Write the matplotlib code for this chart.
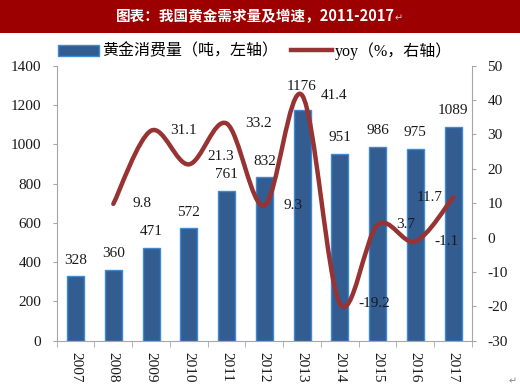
import matplotlib
matplotlib.use('Agg')
import matplotlib.pyplot as plt
from matplotlib.path import Path
from matplotlib.patches import PathPatch, Patch
from matplotlib.lines import Line2D
import numpy as np

years = ['2007', '2008', '2009', '2010', '2011', '2012', '2013', '2014', '2015', '2016', '2017']
consumption = [328, 360, 471, 572, 761, 832, 1176, 951, 986, 975, 1089]
yoy_years = ['2008', '2009', '2010', '2011', '2012', '2013', '2014', '2015', '2016', '2017']
yoy = [9.8, 31.1, 21.3, 33.2, 9.3, 41.4, -19.2, 3.7, -1.1, 11.7]

title = '图表：我国黄金需求量及增速，2011-2017'
bar_name = '黄金消费量（吨，左轴）'
line_name = 'yoy（%，右轴）'

serif = ['Liberation Serif', 'Noto Sans CJK SC', 'DejaVu Sans']
plt.rcParams['font.family'] = serif
plt.rcParams['axes.unicode_minus'] = False

bar_fc = '#335C91'
bar_ec = '#3E8AD6'
line_c = '#983333'
spine_c = '#A6A6A6'
txt_c = '#1A1A1A'

fig = plt.figure(figsize=(5.2, 3.86), dpi=100)

# title banner
fig.patches.append(plt.Rectangle((0, 1 - 33 / 386), 1, 33 / 386, transform=fig.transFigure,
                                 facecolor='#9C0000', edgecolor='none', zorder=0))
fig.text(0.492, 1 - 16.5 / 386, title, ha='center', va='center', color='white',
         fontsize=10.5, fontweight='bold', family=['Noto Sans CJK SC', 'DejaVu Sans'])
fig.text(399 / 520, 1 - 18 / 386, '↵', ha='center', va='center', fontsize=7,
         color='#D0D0D0', family=['DejaVu Sans'])

ax = fig.add_axes([56.7 / 520, 1 - 340.7 / 386, (472 - 56.7) / 520, (340.7 - 65.7) / 386])
ax2 = ax.twinx()

x = np.arange(len(years))
ax.bar(x, consumption, width=0.45, color=bar_fc, edgecolor=bar_ec, linewidth=1.0, zorder=2)
bar_dy = {'2013': 5}
for xi, yr, v in zip(x, years, consumption):
    ax.annotate(str(v), (xi, v), xytext=(0, 7 + bar_dy.get(yr, 0)), textcoords='offset points',
                ha='center', va='bottom', fontsize=11, color=txt_c)

ax.set_xlim(-0.5, len(years) - 0.5)
ax.set_ylim(0, 1400)
ax.set_yticks(range(0, 1401, 200))
ax.set_xticks(x)
ax.set_xticklabels(years, rotation=270, fontsize=11, color=txt_c)
ax.set_xticks(np.arange(-0.5, len(years), 1.0), minor=True)
ax.tick_params(axis='x', which='major', length=0, pad=8)
ax.tick_params(axis='x', which='minor', length=4, color=spine_c, direction='out')
ax.tick_params(axis='y', length=3, color=spine_c, labelsize=11, labelcolor=txt_c, pad=8)
for s in ['top', 'right']:
    ax.spines[s].set_visible(False)
ax.spines['left'].set_color(spine_c)
ax.spines['bottom'].set_color(spine_c)

# smoothed yoy line (bezier through the data points)
lx = np.array([years.index(y) for y in yoy_years], dtype=float)
ly = np.array(yoy, dtype=float)
pts = np.column_stack([lx, ly])
verts = [pts[0]]
codes = [Path.MOVETO]
n = len(pts)
for i in range(n - 1):
    p0 = pts[max(i - 1, 0)]
    p1 = pts[i]
    p2 = pts[i + 1]
    p3 = pts[min(i + 2, n - 1)]
    verts += [p1 + (p2 - p0) / 6.0, p2 - (p3 - p1) / 6.0, p2]
    codes += [Path.CURVE4] * 3
ax2.add_patch(PathPatch(Path(verts, codes), facecolor='none', edgecolor=line_c,
                        linewidth=3.2, capstyle='round', zorder=3))

label_dy = {'2010': 6}
for xi, yr, v in zip(lx, yoy_years, yoy):
    dy = label_dy.get(yr, 0)
    if yr == '2017':
        ax2.annotate(f'{v}', (xi, v), xytext=(-7.5, dy), textcoords='offset points',
                     ha='right', va='center', fontsize=11, color=txt_c)
    else:
        ax2.annotate(f'{v}', (xi, v), xytext=(13.5, dy), textcoords='offset points',
                     ha='left', va='center', fontsize=11, color=txt_c)

ax2.set_ylim(-30, 50)
ax2.set_yticks(range(-30, 51, 10))
ax2.tick_params(axis='y', length=3, color=spine_c, labelsize=11, labelcolor=txt_c, pad=8)
for s in ['top', 'left', 'bottom']:
    ax2.spines[s].set_visible(False)
ax2.spines['right'].set_color(spine_c)

handles = [Patch(facecolor=bar_fc, edgecolor=bar_ec, linewidth=1.0),
           Line2D([0], [0], color=line_c, linewidth=3.2)]
fig.legend(handles, [bar_name, line_name], loc='center', bbox_to_anchor=(0.49, 1 - 51 / 386),
           ncol=2, frameon=False, fontsize=11.5, handlelength=2.6, handleheight=0.7,
           handletextpad=0.15, columnspacing=0.8, borderaxespad=0)

fig.text(513 / 520, 1 - 381 / 386, '↵', ha='center', va='center', fontsize=7,
         color='#888888', family=['DejaVu Sans'])

fig.savefig('out.png', dpi=100)
